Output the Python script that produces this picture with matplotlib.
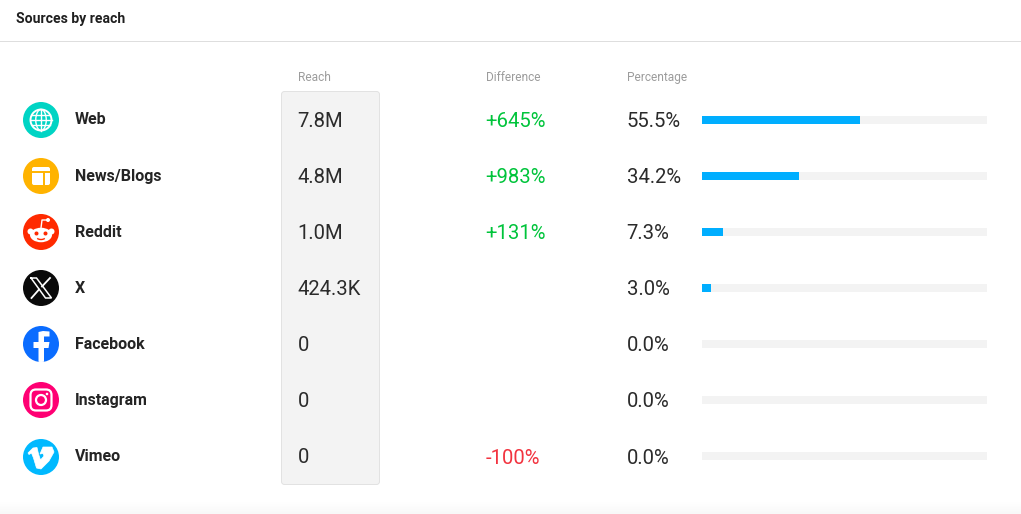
import matplotlib
matplotlib.use('Agg')
import matplotlib.pyplot as plt
import numpy as np
from matplotlib.patches import Circle, Ellipse, FancyBboxPatch, Polygon, Arc

plt.rcParams['font.family'] = ['Roboto', 'DejaVu Sans']

sources = ['Web', 'News/Blogs', 'Reddit', 'X', 'Facebook', 'Instagram', 'Vimeo']
reach = ['7.8M', '4.8M', '1.0M', '424.3K', '0', '0', '0']
difference = ['+645%', '+983%', '+131%', '', '', '', '-100%']
percentage = [55.5, 34.2, 7.3, 3.0, 0.0, 0.0, 0.0]
icon_colors = ['#00d4c4', '#ffb300', '#ff2a00', '#0a0a0a', '#0a6cff', '#ff0073', '#00b9ff']

ROW_Y0 = 120
ROW_STEP = 56
WHITE = 'white'


def globe(ax, x, y):
    ax.add_patch(Circle((x, y), 10.5, fc='none', ec=WHITE, lw=1.4))
    ax.add_patch(Ellipse((x, y), 10.5, 21, fc='none', ec=WHITE, lw=1))
    ax.plot([x, x], [y - 10.5, y + 10.5], color=WHITE, lw=1)
    ax.plot([x - 10.5, x + 10.5], [y, y], color=WHITE, lw=1)
    ax.plot([x - 9, x + 9], [y - 5, y - 5], color=WHITE, lw=1)
    ax.plot([x - 9, x + 9], [y + 5, y + 5], color=WHITE, lw=1)


def news(ax, x, y):
    ax.add_patch(FancyBboxPatch((x - 9, y - 9), 18, 18, boxstyle='round,pad=0,rounding_size=2',
                                fc=WHITE, ec='none'))
    ax.plot([x - 9, x + 9], [y - 4.5, y - 4.5], color='#ffb300', lw=1.4)
    ax.plot([x + 3, x + 3], [y - 4.5, y + 9], color='#ffb300', lw=1.4)


def reddit(ax, x, y):
    ax.add_patch(Circle((x - 10.5, y - 0.5), 3, fc=WHITE, ec='none'))
    ax.add_patch(Circle((x + 10.5, y - 0.5), 3, fc=WHITE, ec='none'))
    ax.add_patch(Ellipse((x, y + 3), 22, 14.5, fc=WHITE, ec='none'))
    ax.add_patch(Circle((x - 4.5, y + 1.5), 2, fc='#ff2a00', ec='none'))
    ax.add_patch(Circle((x + 4.5, y + 1.5), 2, fc='#ff2a00', ec='none'))
    ax.add_patch(Arc((x, y + 5), 9, 5, theta1=20, theta2=160, ec='#ff2a00', lw=1))
    ax.plot([x, x + 1, x + 7], [y - 4, y - 12, y - 12], color=WHITE, lw=1)
    ax.add_patch(Circle((x + 7, y - 12), 2, fc=WHITE, ec='none'))


def x_logo(ax, x, y):
    outline = [(x - 10, y - 10), (x - 4.5, y - 10), (x + 10.5, y + 10),
               (x + 4.5, y + 10), (x - 10, y - 10)]
    ax.plot(*zip(*outline), color=WHITE, lw=1.1, solid_joinstyle='miter')
    ax.plot([x + 9, x + 1], [y - 10, y - 1.5], color=WHITE, lw=1.3)
    ax.plot([x - 2, x - 9.5], [y + 1.5, y + 10], color=WHITE, lw=1.3)


def facebook(ax, x, y):
    verts = [(x - 2.5, y + 18), (x - 2.5, y + 4), (x - 7.5, y + 4), (x - 7.5, y - 2), (x - 2.5, y - 2),
             (x - 2.5, y - 7), (x - 2.5, y - 12), (x + 2, y - 13), (x + 8.5, y - 12.5),
             (x + 8.5, y - 7.5), (x + 5, y - 7.5), (x + 3, y - 7.5), (x + 3, y - 5),
             (x + 3, y - 2), (x + 8.5, y - 2), (x + 7.5, y + 4), (x + 3, y + 4), (x + 3, y + 18)]
    clip = Circle((x, y), 18, transform=ax.transData)
    patch = Polygon(verts, fc=WHITE, ec='none')
    ax.add_patch(patch)
    patch.set_clip_path(clip)


def instagram(ax, x, y):
    ax.add_patch(FancyBboxPatch((x - 10.5, y - 10.5), 21, 21, boxstyle='round,pad=0,rounding_size=5.5',
                                fc='none', ec=WHITE, lw=1.6))
    ax.add_patch(Circle((x, y), 5, fc='none', ec=WHITE, lw=1.6))
    ax.add_patch(Circle((x + 6, y - 6), 1.3, fc=WHITE, ec='none'))


def vimeo(ax, x, y):
    verts = [(x - 13, y - 4), (x - 8, y - 9), (x - 4, y - 9.5), (x - 2.5, y - 3), (x - 0.5, y + 3),
             (x + 3, y - 1), (x + 2, y - 3.5), (x - 1, y - 3), (x + 2, y - 10), (x + 11, y - 10),
             (x + 13, y - 5), (x + 8, y + 4), (x + 0, y + 12), (x - 4.5, y + 11), (x - 7.5, y + 1),
             (x - 9.5, y - 4), (x - 12, y - 2.5)]
    ax.add_patch(Polygon(verts, fc=WHITE, ec=WHITE, lw=0.5, joinstyle='round'))


icon_painters = [globe, news, reddit, x_logo, facebook, instagram, vimeo]

fig = plt.figure(figsize=(10.21, 5.14), dpi=100, facecolor=WHITE)
ax = fig.add_axes([0, 0, 1, 1])
ax.set_xlim(0, 1021)
ax.set_ylim(514, 0)
ax.axis('off')

# faint shadow along the bottom edge
shade = np.linspace(1.0, 0.97, 14).reshape(-1, 1)
ax.imshow(shade, cmap='gray', vmin=0, vmax=1, extent=(0, 1021, 514, 500), aspect='auto', zorder=0)
ax.set_xlim(0, 1021)
ax.set_ylim(514, 0)

ax.text(16, 22.5, 'Sources by reach', fontsize=10.1, fontweight='bold', color='#1f1f1f', va='baseline')
ax.plot([0, 1021], [41, 41], color='#dedede', lw=0.72)

ax.add_patch(FancyBboxPatch((281.5, 91.5), 98, 393, boxstyle='round,pad=0,rounding_size=3',
                            fc='#f3f3f3', ec='#e2e2e2', lw=0.72, zorder=1))

for label, xpos in [('Reach', 298), ('Difference', 485.5), ('Percentage', 627)]:
    ax.text(xpos, 81, label, fontsize=8.6, color='#9c9c9c', va='baseline')

for i, name in enumerate(sources):
    y = ROW_Y0 + i * ROW_STEP
    low = 1 if i == 6 else 0
    ax.add_patch(Circle((41, y + low), 18, fc=icon_colors[i], ec='none', zorder=2))
    n_before = len(ax.patches), len(ax.lines)
    icon_painters[i](ax, 41, y + low)
    for artist in ax.patches[n_before[0]:] + ax.lines[n_before[1]:]:
        artist.set_zorder(3)

    name_y = y + 4 if i == 0 else y + 4.7
    ax.text(75, name_y, name, fontsize=11.5, fontweight='bold', color='#242424', va='baseline')
    ax.text(297.5, y + 6.6, reach[i], fontsize=14.6, color='#2b2b2b', va='baseline', zorder=4)
    if difference[i]:
        diff_color = '#00c43b' if difference[i].startswith('+') else '#f2333f'
        ax.text(485.5, y + 6.6 + low, difference[i], fontsize=14.6, color=diff_color, va='baseline')
    ax.text(626.5, y + 6.6 + low, f'{percentage[i]:.1f}%', fontsize=14.6, color='#2b2b2b', va='baseline')

# percentage bars on their own 0-100 scale, one row per source
rows = np.arange(len(sources))
bar_ax = fig.add_axes([702 / 1021, 1 - (ROW_Y0 + 6.5 * ROW_STEP) / 514, 285 / 1021, 7 * ROW_STEP / 514])
bar_ax.set_xlim(0, 100)
bar_ax.set_ylim(6.5, -0.5)
bar_ax.axis('off')
bar_height = 8 / ROW_STEP
bar_ax.barh(rows, [100] * len(rows), height=bar_height, color='#f3f3f3')
bar_ax.barh(rows, percentage, height=bar_height, color='#00aeff')

fig.savefig('out.png', dpi=100)
